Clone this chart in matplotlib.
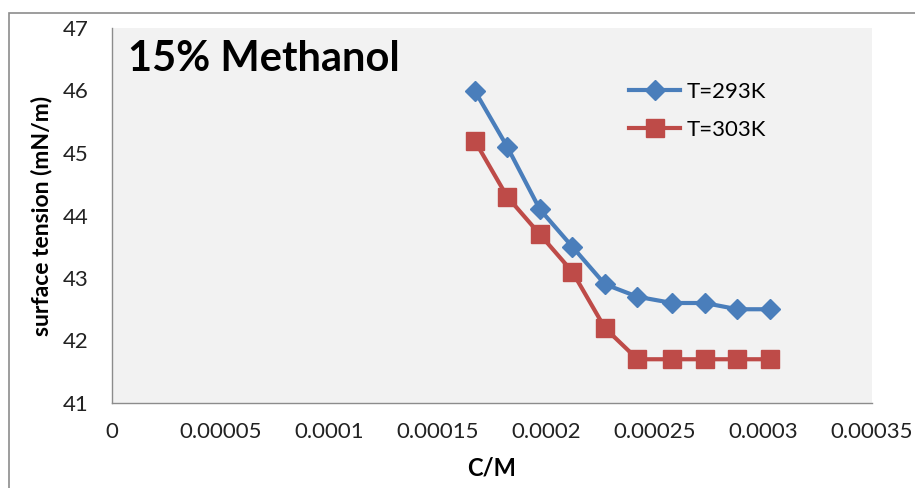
import numpy as np
import matplotlib.pyplot as plt
from matplotlib.patches import Rectangle

# concentration (mol/L) and surface tension (mN/m)
conc = [0.000167, 0.000182, 0.000197, 0.000212, 0.000227,
        0.000242, 0.000258, 0.000273, 0.000288, 0.000303]
st_293 = [46.0, 45.1, 44.1, 43.5, 42.9, 42.7, 42.6, 42.6, 42.5, 42.5]
st_303 = [45.2, 44.3, 43.7, 43.1, 42.2, 41.7, 41.7, 41.7, 41.7, 41.7]
xticks = [0, 0.00005, 0.0001, 0.00015, 0.0002, 0.00025, 0.0003, 0.00035]
xtick_labels = ["0", "0.00005", "0.0001", "0.00015", "0.0002", "0.00025", "0.0003", "0.00035"]

plt.rcParams['font.family'] = ['Lato', 'DejaVu Sans']

W, H = 915, 488
fig = plt.figure(figsize=(W / 100, H / 100), dpi=100)
fig.patch.set_facecolor('white')

# chart border
fig.patches.append(Rectangle((9 / W, -0.1), 1.2, (H - 13) / H + 0.1, transform=fig.transFigure,
                             fill=False, edgecolor='#8c8c8c', linewidth=1.2))

left, right, top, bottom = 112, 872, 28, 403
ax = fig.add_axes([left / W, 1 - bottom / H, (right - left) / W, (bottom - top) / H])
ax.set_facecolor('#f2f2f2')

ax.plot(conc, st_293, color='#4a7ebb', linewidth=3, marker='D', markersize=10,
        label='T=293K')
ax.plot(conc, st_303, color='#be4b48', linewidth=3, marker='s', markersize=12.5,
        label='T=303K')

ax.set_xlim(0, 0.00035)
ax.set_ylim(41, 47)
ax.set_xticks(xticks)
ax.set_xticklabels(xtick_labels)
ax.set_yticks(range(41, 48))
ax.tick_params(length=0, labelsize=16, colors='#222222')
ax.tick_params(axis='x', pad=14)
ax.tick_params(axis='y', pad=17)

for s in ['top', 'right']:
    ax.spines[s].set_visible(False)
for s in ['left', 'bottom']:
    ax.spines[s].set_color('#8c8c8c')
    ax.spines[s].set_linewidth(1.0)

ax.set_xlabel('C/M', fontsize=17, fontweight='bold', labelpad=10)
ax.set_ylabel('surface tension (mN/m)', fontsize=16.5, fontweight='bold')
ax.yaxis.set_label_coords(-0.079, 0.5)

ax.text(0.021, 0.968, '15% Methanol', transform=ax.transAxes, fontsize=30,
        fontweight='bold', va='top', ha='left')

leg = ax.legend(loc='upper left', bbox_to_anchor=(0.654, 0.91), frameon=False,
                fontsize=16, handlelength=2.3, labelspacing=0.8, handletextpad=0.3)

fig.savefig('out.png', dpi=100)
